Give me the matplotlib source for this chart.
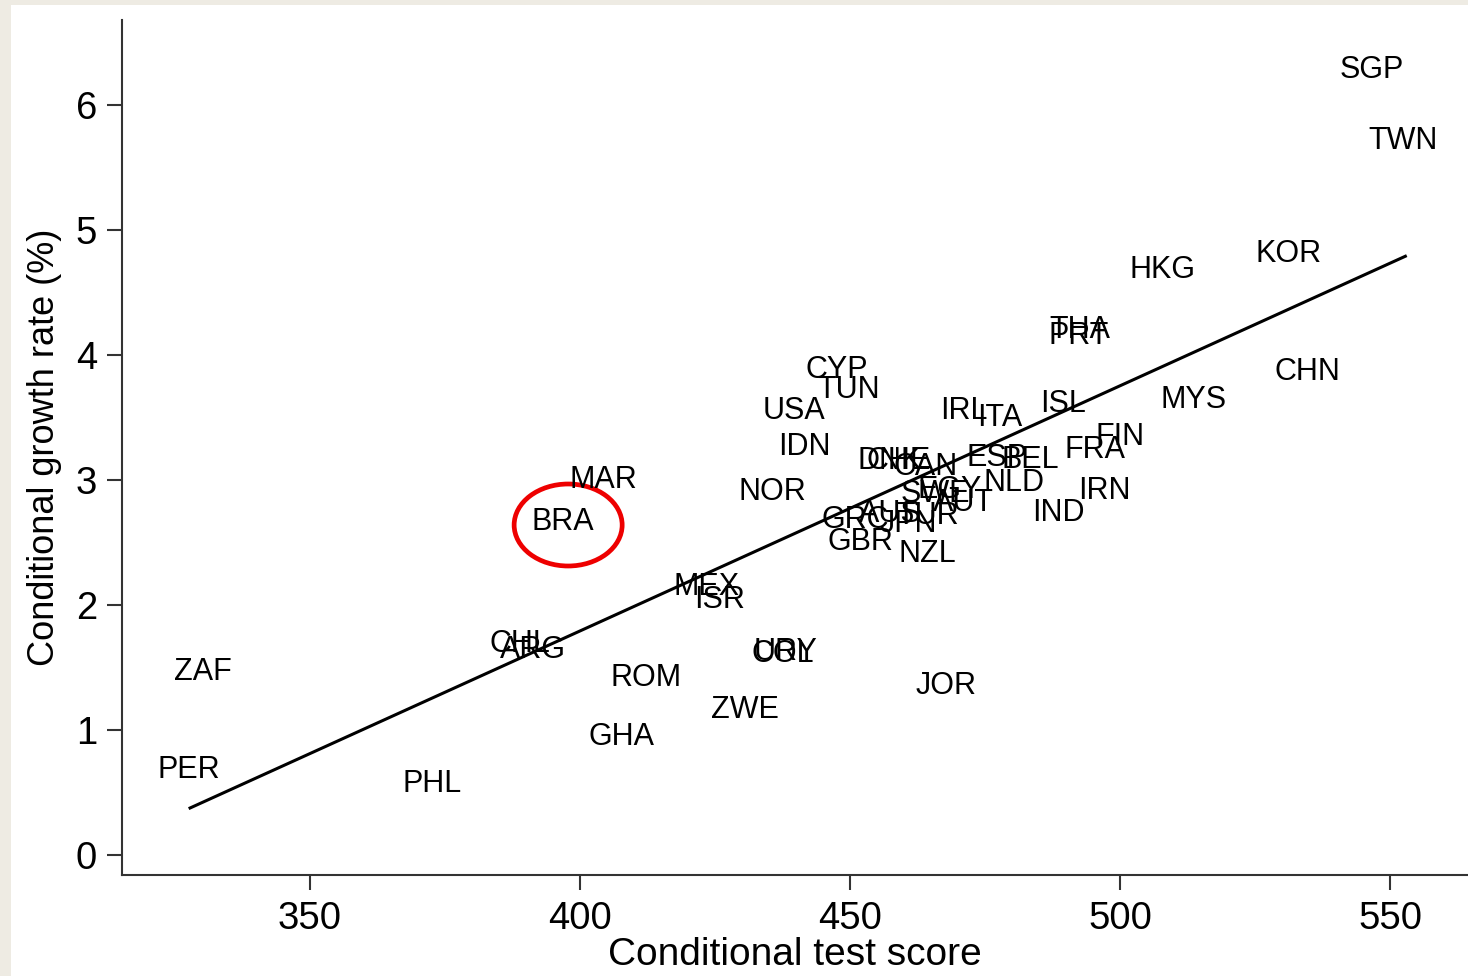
import matplotlib
matplotlib.use("Agg")
import matplotlib.pyplot as plt
from matplotlib.patches import Ellipse, Rectangle
from matplotlib.transforms import offset_copy

plt.rcParams['font.family'] = ['Liberation Sans', 'DejaVu Sans']

# country codes with conditional test score (x) and conditional growth (y)
codes = ["SGP", "TWN", "KOR", "HKG", "CHN", "THA", "PRT", "MYS", "ISL", "FIN",
         "FRA", "IRN", "IND", "CYP", "TUN", "USA", "IRL", "ITA", "IDN", "ESP",
         "BEL", "DNK", "CHE", "CAN", "NLD", "EGY", "SWE", "AUT", "NOR", "MAR",
         "BRA", "AUS", "GRC", "JPN", "TUR", "GBR", "NZL", "MEX", "ISR", "CHL",
         "ARG", "URY", "COL", "ROM", "ZWE", "JOR", "GHA", "ZAF", "PER", "PHL"]
score = [546.5, 552.4, 531.1, 507.8, 534.6, 492.6, 492.4, 513.5, 489.4, 500.0,
         495.4, 497.0, 488.5, 447.6, 449.8, 439.6, 471.1, 477.8, 441.5, 477.2,
         483.3, 457.4, 459.0, 463.9, 480.4, 468.5, 465.7, 470.9, 435.6, 404.3,
         396.9, 457.4, 450.9, 460.7, 464.3, 452.0, 464.3, 423.5, 425.9, 388.9,
         391.3, 438.0, 437.6, 412.2, 430.6, 467.8, 407.6, 330.2, 327.6, 372.6]
growth = [6.30, 5.73, 4.82, 4.70, 3.88, 4.22, 4.17, 3.66, 3.62, 3.36,
          3.26, 2.93, 2.75, 3.90, 3.74, 3.57, 3.57, 3.51, 3.28, 3.19,
          3.18, 3.17, 3.17, 3.12, 2.99, 2.94, 2.90, 2.83, 2.92, 3.02,
          2.68, 2.74, 2.70, 2.66, 2.73, 2.52, 2.42, 2.16, 2.06, 1.70,
          1.66, 1.64, 1.62, 1.43, 1.18, 1.37, 0.96, 1.48, 0.70, 0.58]

# fitted line end points
fit_x = [327.8, 552.8]
fit_y = [0.376, 4.79]

fig = plt.figure(figsize=(14.68, 9.76), dpi=100)
fig.patch.set_facecolor("#EEEBE3")
fig.add_artist(Rectangle((11 / 1468, 0), 1, 1 - 5 / 976, transform=fig.transFigure,
                         facecolor="white", edgecolor="none", zorder=0))

ax = fig.add_axes([122 / 1468, 101 / 976, 1 - 122 / 1468, 855 / 976])
ax.set_facecolor("white")

# caps-only labels sit a bit high with va=center, nudge down
lab_tr = offset_copy(ax.transData, fig=fig, x=0, y=-2, units="dots")
for c, xv, yv in zip(codes, score, growth):
    ax.text(xv, yv, c, ha="center", va="center", fontsize=22, color="black",
            transform=lab_tr)

ax.plot(fit_x, fit_y, color="black", lw=2.2)

ax.add_patch(Ellipse((397.8, 2.64), 20, 0.656, fill=False, edgecolor="#EE0000", lw=3.4))

ax.set_xlim(315.2, 564.4)
ax.set_ylim(-0.16, 6.68)
ax.set_xticks([350, 400, 450, 500, 550])
ax.set_yticks([0, 1, 2, 3, 4, 5, 6])

for s in ["top", "right"]:
    ax.spines[s].set_visible(False)
for s in ["left", "bottom"]:
    ax.spines[s].set_color("#333333")
    ax.spines[s].set_linewidth(1.5)

ax.tick_params(axis="both", direction="out", length=11, width=1.5, color="#333333",
               labelsize=27.5)
ax.tick_params(axis="x", pad=8)
ax.tick_params(axis="y", pad=7)

ax.set_xlabel("Conditional test score", fontsize=28, labelpad=0)
ax.set_ylabel("Conditional growth rate (%)", fontsize=26, labelpad=10)

fig.savefig("out.png", dpi=100)
